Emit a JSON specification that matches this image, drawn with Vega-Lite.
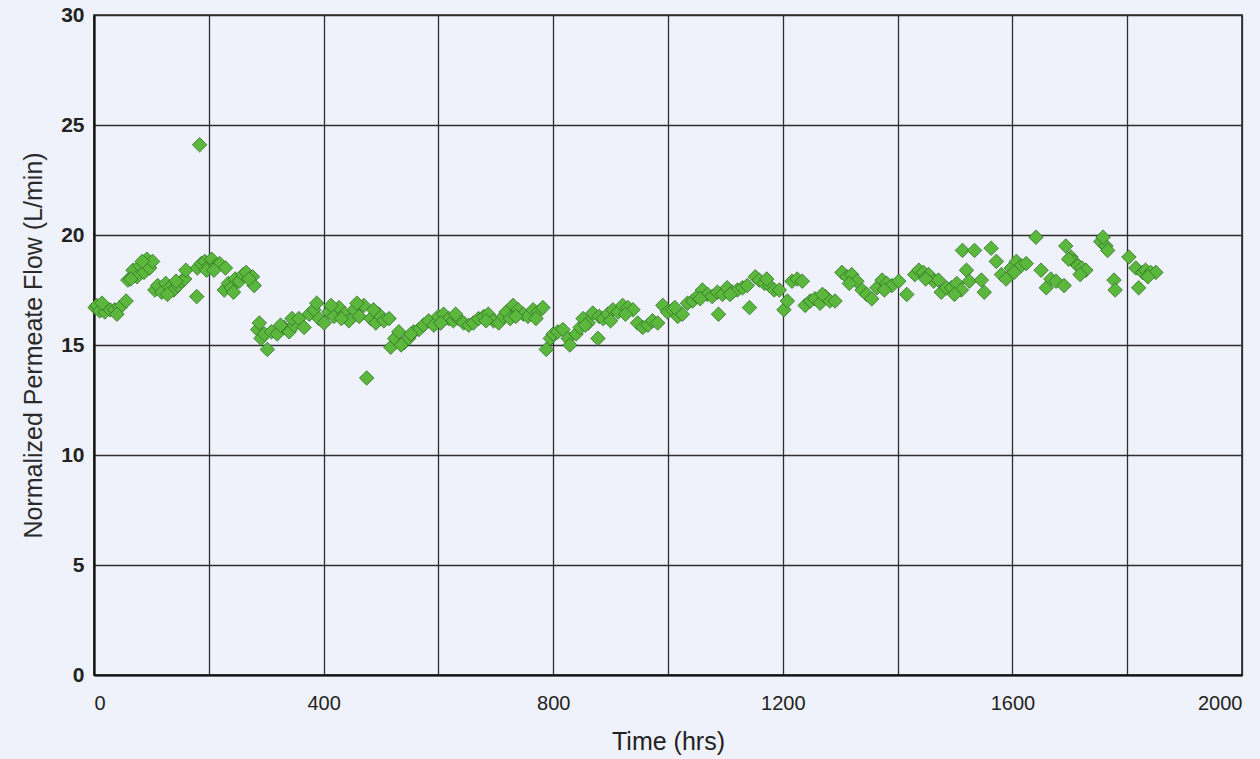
{
  "$schema": "https://vega.github.io/schema/vega-lite/v6.json",
  "autosize": "none",
  "width": 1148,
  "height": 660,
  "padding": {"left": 94, "top": 15, "right": 18, "bottom": 84},
  "background": "#eff2fa",
  "config": {
    "view": {"stroke": "#2a2a2a", "strokeWidth": 1.6},
    "axis": {"labelFont": "Liberation Sans", "titleFont": "Liberation Sans", "gridColor": "#2e2e2e", "gridWidth": 1.3, "gridOpacity": 1}
  },
  "data": {
    "values": [
      {"hrs": 2, "flow": 16.7}, {"hrs": 5, "flow": 16.8}, {"hrs": 10, "flow": 16.55}, {"hrs": 19, "flow": 16.5}, {"hrs": 28, "flow": 16.6}, {"hrs": 36, "flow": 16.6}, {"hrs": 45, "flow": 16.7}, {"hrs": 56, "flow": 17.0}, {"hrs": 14, "flow": 16.9}, {"hrs": 40, "flow": 16.4},
      {"hrs": 59, "flow": 17.95}, {"hrs": 68, "flow": 18.4}, {"hrs": 75, "flow": 18.1}, {"hrs": 80, "flow": 18.6}, {"hrs": 87, "flow": 18.3}, {"hrs": 92, "flow": 18.9}, {"hrs": 97, "flow": 18.5}, {"hrs": 102, "flow": 18.8}, {"hrs": 64, "flow": 18.0}, {"hrs": 84, "flow": 18.8},
      {"hrs": 106, "flow": 17.5}, {"hrs": 111, "flow": 17.7}, {"hrs": 118, "flow": 17.4}, {"hrs": 125, "flow": 17.8}, {"hrs": 132, "flow": 17.6}, {"hrs": 139, "flow": 17.5}, {"hrs": 146, "flow": 17.7}, {"hrs": 153, "flow": 17.9}, {"hrs": 158, "flow": 18.0}, {"hrs": 160, "flow": 18.4}, {"hrs": 179, "flow": 17.2}, {"hrs": 184, "flow": 24.1}, {"hrs": 128, "flow": 17.3}, {"hrs": 143, "flow": 17.9},
      {"hrs": 180, "flow": 18.5}, {"hrs": 187, "flow": 18.7}, {"hrs": 193, "flow": 18.8}, {"hrs": 200, "flow": 18.6}, {"hrs": 205, "flow": 18.9}, {"hrs": 212, "flow": 18.6}, {"hrs": 219, "flow": 18.7}, {"hrs": 229, "flow": 18.5}, {"hrs": 196, "flow": 18.4}, {"hrs": 209, "flow": 18.4},
      {"hrs": 227, "flow": 17.5}, {"hrs": 234, "flow": 17.8}, {"hrs": 239, "flow": 17.6}, {"hrs": 246, "flow": 18.0}, {"hrs": 253, "flow": 17.9}, {"hrs": 260, "flow": 18.2}, {"hrs": 265, "flow": 18.3}, {"hrs": 276, "flow": 18.1}, {"hrs": 279, "flow": 17.7}, {"hrs": 243, "flow": 17.4}, {"hrs": 270, "flow": 18.0},
      {"hrs": 285, "flow": 15.7}, {"hrs": 291, "flow": 15.3}, {"hrs": 297, "flow": 15.5}, {"hrs": 302, "flow": 14.8}, {"hrs": 309, "flow": 15.6}, {"hrs": 319, "flow": 15.5}, {"hrs": 331, "flow": 15.8}, {"hrs": 340, "flow": 15.6}, {"hrs": 349, "flow": 15.9}, {"hrs": 288, "flow": 16.0}, {"hrs": 325, "flow": 15.9}, {"hrs": 345, "flow": 16.2},
      {"hrs": 357, "flow": 16.2}, {"hrs": 366, "flow": 15.8}, {"hrs": 375, "flow": 16.4}, {"hrs": 383, "flow": 16.6}, {"hrs": 392, "flow": 16.2}, {"hrs": 401, "flow": 16.0}, {"hrs": 409, "flow": 16.5}, {"hrs": 418, "flow": 16.3}, {"hrs": 427, "flow": 16.7}, {"hrs": 436, "flow": 16.4}, {"hrs": 444, "flow": 16.1}, {"hrs": 453, "flow": 16.6}, {"hrs": 462, "flow": 16.3}, {"hrs": 470, "flow": 16.8}, {"hrs": 475, "flow": 13.5}, {"hrs": 482, "flow": 16.2}, {"hrs": 491, "flow": 16.0}, {"hrs": 496, "flow": 16.4}, {"hrs": 505, "flow": 16.1}, {"hrs": 514, "flow": 16.2}, {"hrs": 388, "flow": 16.9}, {"hrs": 413, "flow": 16.8}, {"hrs": 431, "flow": 16.2}, {"hrs": 458, "flow": 16.9}, {"hrs": 487, "flow": 16.6},
      {"hrs": 517, "flow": 14.9}, {"hrs": 524, "flow": 15.3}, {"hrs": 531, "flow": 15.6}, {"hrs": 540, "flow": 15.1}, {"hrs": 548, "flow": 15.3}, {"hrs": 557, "flow": 15.6}, {"hrs": 566, "flow": 15.7}, {"hrs": 535, "flow": 15.0}, {"hrs": 552, "flow": 15.5},
      {"hrs": 574, "flow": 15.9}, {"hrs": 583, "flow": 16.1}, {"hrs": 592, "flow": 15.9}, {"hrs": 600, "flow": 16.3}, {"hrs": 609, "flow": 16.4}, {"hrs": 618, "flow": 16.2}, {"hrs": 626, "flow": 16.1}, {"hrs": 635, "flow": 16.2}, {"hrs": 644, "flow": 16.0}, {"hrs": 653, "flow": 15.9}, {"hrs": 661, "flow": 16.0}, {"hrs": 670, "flow": 16.2}, {"hrs": 679, "flow": 16.3}, {"hrs": 687, "flow": 16.4}, {"hrs": 696, "flow": 16.1}, {"hrs": 705, "flow": 16.0}, {"hrs": 604, "flow": 16.0}, {"hrs": 630, "flow": 16.4}, {"hrs": 683, "flow": 16.1},
      {"hrs": 713, "flow": 16.3}, {"hrs": 718, "flow": 16.5}, {"hrs": 725, "flow": 16.2}, {"hrs": 730, "flow": 16.8}, {"hrs": 739, "flow": 16.6}, {"hrs": 748, "flow": 16.4}, {"hrs": 756, "flow": 16.3}, {"hrs": 765, "flow": 16.6}, {"hrs": 774, "flow": 16.5}, {"hrs": 782, "flow": 16.7}, {"hrs": 788, "flow": 14.8}, {"hrs": 735, "flow": 16.3}, {"hrs": 770, "flow": 16.2},
      {"hrs": 795, "flow": 15.3}, {"hrs": 800, "flow": 15.5}, {"hrs": 808, "flow": 15.6}, {"hrs": 817, "flow": 15.7}, {"hrs": 826, "flow": 15.3}, {"hrs": 829, "flow": 15.0}, {"hrs": 840, "flow": 15.5}, {"hrs": 847, "flow": 15.8}, {"hrs": 852, "flow": 16.2}, {"hrs": 861, "flow": 16.0}, {"hrs": 869, "flow": 16.45}, {"hrs": 878, "flow": 15.3}, {"hrs": 880, "flow": 16.3}, {"hrs": 887, "flow": 16.2}, {"hrs": 895, "flow": 16.4}, {"hrs": 904, "flow": 16.6}, {"hrs": 913, "flow": 16.5}, {"hrs": 921, "flow": 16.8}, {"hrs": 930, "flow": 16.7}, {"hrs": 939, "flow": 16.6}, {"hrs": 947, "flow": 16.0}, {"hrs": 956, "flow": 15.8}, {"hrs": 965, "flow": 15.9}, {"hrs": 973, "flow": 16.1}, {"hrs": 982, "flow": 16.0}, {"hrs": 991, "flow": 16.8}, {"hrs": 999, "flow": 16.5}, {"hrs": 1008, "flow": 16.6}, {"hrs": 1017, "flow": 16.3}, {"hrs": 1025, "flow": 16.4}, {"hrs": 1034, "flow": 16.9}, {"hrs": 1043, "flow": 17.0}, {"hrs": 1051, "flow": 17.2}, {"hrs": 1060, "flow": 17.5}, {"hrs": 1069, "flow": 17.3}, {"hrs": 1077, "flow": 17.2}, {"hrs": 1086, "flow": 17.4}, {"hrs": 1088, "flow": 16.4}, {"hrs": 1095, "flow": 17.3}, {"hrs": 1103, "flow": 17.6}, {"hrs": 1112, "flow": 17.4}, {"hrs": 1121, "flow": 17.5}, {"hrs": 1130, "flow": 17.6}, {"hrs": 1138, "flow": 17.7}, {"hrs": 1142, "flow": 16.7}, {"hrs": 1152, "flow": 18.1}, {"hrs": 1159, "flow": 17.95}, {"hrs": 1168, "flow": 17.8}, {"hrs": 1177, "flow": 17.7}, {"hrs": 1185, "flow": 17.5}, {"hrs": 1194, "flow": 17.5}, {"hrs": 1202, "flow": 16.6}, {"hrs": 1208, "flow": 17.0}, {"hrs": 1216, "flow": 17.9}, {"hrs": 1225, "flow": 18.0}, {"hrs": 1234, "flow": 17.9}, {"hrs": 856, "flow": 15.9}, {"hrs": 900, "flow": 16.1}, {"hrs": 926, "flow": 16.4}, {"hrs": 1012, "flow": 16.7}, {"hrs": 1056, "flow": 17.1}, {"hrs": 1108, "flow": 17.3}, {"hrs": 1172, "flow": 18.0},
      {"hrs": 1239, "flow": 16.8}, {"hrs": 1248, "flow": 17.0}, {"hrs": 1256, "flow": 17.1}, {"hrs": 1265, "flow": 16.9}, {"hrs": 1274, "flow": 17.2}, {"hrs": 1282, "flow": 17.0}, {"hrs": 1291, "flow": 17.0}, {"hrs": 1303, "flow": 18.3}, {"hrs": 1312, "flow": 18.1}, {"hrs": 1320, "flow": 18.2}, {"hrs": 1329, "flow": 17.9}, {"hrs": 1338, "flow": 17.5}, {"hrs": 1346, "flow": 17.3}, {"hrs": 1355, "flow": 17.1}, {"hrs": 1364, "flow": 17.6}, {"hrs": 1373, "flow": 17.95}, {"hrs": 1381, "flow": 17.8}, {"hrs": 1390, "flow": 17.7}, {"hrs": 1402, "flow": 17.9}, {"hrs": 1416, "flow": 17.3}, {"hrs": 1430, "flow": 18.2}, {"hrs": 1437, "flow": 18.4}, {"hrs": 1445, "flow": 18.3}, {"hrs": 1454, "flow": 18.2}, {"hrs": 1463, "flow": 17.9}, {"hrs": 1471, "flow": 17.95}, {"hrs": 1476, "flow": 17.4}, {"hrs": 1485, "flow": 17.6}, {"hrs": 1494, "flow": 17.6}, {"hrs": 1503, "flow": 17.8}, {"hrs": 1511, "flow": 17.5}, {"hrs": 1513, "flow": 19.3}, {"hrs": 1520, "flow": 18.4}, {"hrs": 1525, "flow": 17.9}, {"hrs": 1534, "flow": 19.3}, {"hrs": 1546, "flow": 17.95}, {"hrs": 1551, "flow": 17.4}, {"hrs": 1563, "flow": 19.4}, {"hrs": 1572, "flow": 18.8}, {"hrs": 1581, "flow": 18.2}, {"hrs": 1589, "flow": 18.0}, {"hrs": 1598, "flow": 18.5}, {"hrs": 1607, "flow": 18.8}, {"hrs": 1615, "flow": 18.6}, {"hrs": 1624, "flow": 18.7}, {"hrs": 1269, "flow": 17.3}, {"hrs": 1316, "flow": 17.8}, {"hrs": 1377, "flow": 17.5}, {"hrs": 1449, "flow": 18.0}, {"hrs": 1499, "flow": 17.3}, {"hrs": 1603, "flow": 18.3},
      {"hrs": 1641, "flow": 19.9}, {"hrs": 1650, "flow": 18.4}, {"hrs": 1659, "flow": 17.6}, {"hrs": 1667, "flow": 18.0}, {"hrs": 1676, "flow": 17.9}, {"hrs": 1690, "flow": 17.7}, {"hrs": 1693, "flow": 19.5}, {"hrs": 1702, "flow": 19.0}, {"hrs": 1707, "flow": 18.8}, {"hrs": 1714, "flow": 18.6}, {"hrs": 1721, "flow": 18.5}, {"hrs": 1728, "flow": 18.4}, {"hrs": 1754, "flow": 19.7}, {"hrs": 1763, "flow": 19.5}, {"hrs": 1766, "flow": 19.3}, {"hrs": 1777, "flow": 17.95}, {"hrs": 1779, "flow": 17.5}, {"hrs": 1803, "flow": 19.0}, {"hrs": 1815, "flow": 18.5}, {"hrs": 1820, "flow": 17.6}, {"hrs": 1827, "flow": 18.3}, {"hrs": 1832, "flow": 18.4}, {"hrs": 1841, "flow": 18.3}, {"hrs": 1850, "flow": 18.3}, {"hrs": 1698, "flow": 18.9}, {"hrs": 1718, "flow": 18.2}, {"hrs": 1758, "flow": 19.9}, {"hrs": 1836, "flow": 18.1}
    ]
  },
  "mark": {"type": "point", "shape": "diamond", "filled": true, "size": 210, "color": "#5cb83c", "stroke": "#2f6e2a", "strokeWidth": 0.8, "opacity": 1},
  "encoding": {
    "x": {
      "field": "hrs", "type": "quantitative",
      "scale": {"domain": [0, 2000], "nice": false, "zero": true},
      "axis": {
        "title": "Time (hrs)", "titleFontSize": 25, "titleFontWeight": "normal", "titleColor": "#222", "titlePadding": 16,
        "values": [0, 200, 400, 600, 800, 1000, 1200, 1400, 1600, 1800, 2000],
        "labelExpr": "datum.value % 400 === 0 ? datum.label : ''",
        "format": "d", "labelFontSize": 20, "labelColor": "#222", "labelPadding": 18, "labelFlush": true,
        "ticks": false, "domainColor": "#111", "domainWidth": 2.2, "grid": true
      }
    },
    "y": {
      "field": "flow", "type": "quantitative",
      "scale": {"domain": [0, 30], "nice": false},
      "axis": {
        "title": "Normalized Permeate Flow (L/min)", "titleFontSize": 25, "titleFontWeight": "normal", "titleColor": "#2a2a2a", "titlePadding": 14,
        "values": [0, 5, 10, 15, 20, 25, 30],
        "labelFontSize": 21, "labelFontWeight": "bold", "labelColor": "#222", "labelPadding": 10,
        "ticks": false, "domainColor": "#111", "domainWidth": 2.2, "grid": true
      }
    }
  }
}
